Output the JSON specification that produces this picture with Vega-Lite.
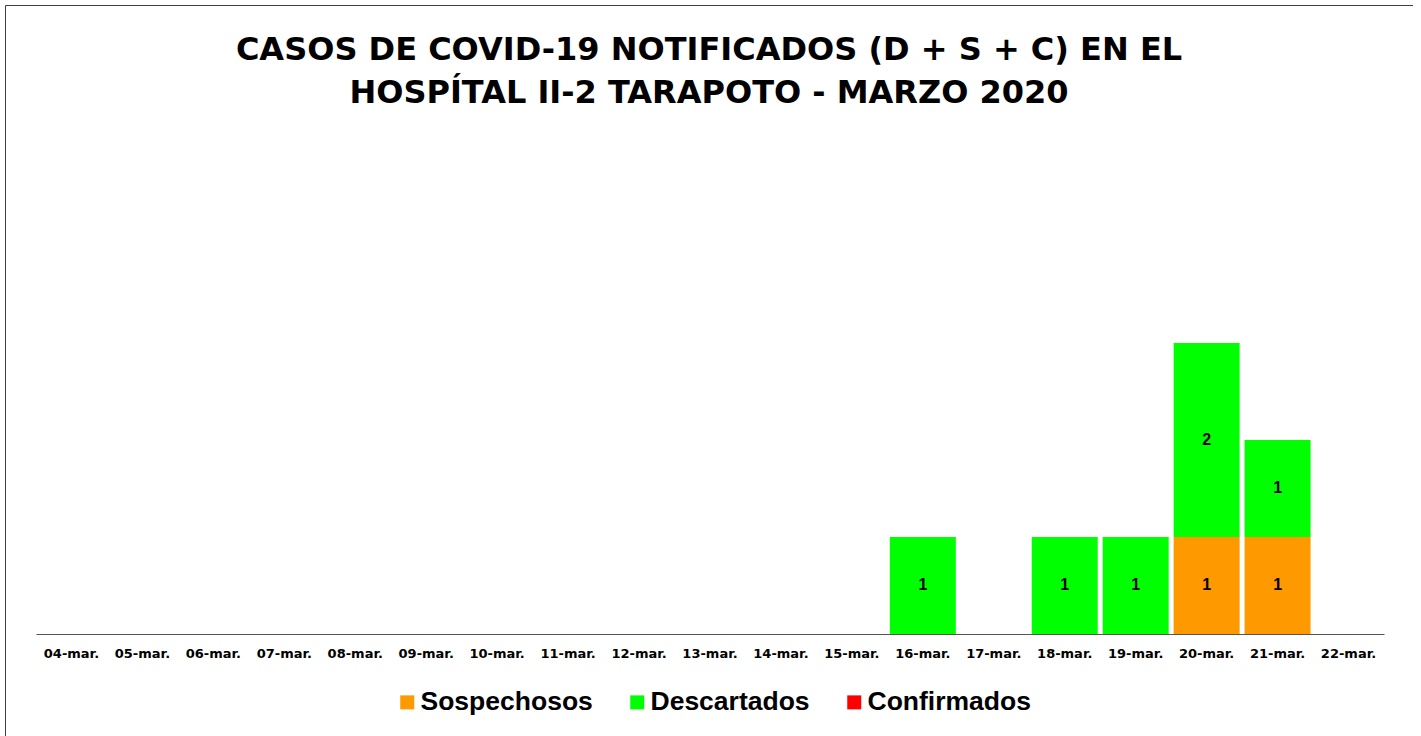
{
  "$schema": "https://vega.github.io/schema/vega-lite/v6.json",
  "width": 1408,
  "height": 735,
  "padding": {"left": 5, "top": 5, "right": 0, "bottom": 0},
  "autosize": {"type": "none"},
  "background": "white",
  "config": {
    "font": "Liberation Sans",
    "view": {"stroke": "#404040", "strokeWidth": 1}
  },
  "title": {
    "text": ["CASOS DE COVID-19 NOTIFICADOS (D + S + C) EN EL", "HOSPÍTAL II-2 TARAPOTO - MARZO 2020"],
    "font": "DejaVu Sans",
    "fontSize": 32,
    "fontWeight": "bold",
    "color": "black",
    "anchor": "middle",
    "frame": "group",
    "baseline": "top",
    "offset": -105,
    "lineHeight": 43
  },
  "data": {
    "values": [
      {"fecha": "16-mar.", "tipo": "Descartados", "casos": 1},
      {"fecha": "18-mar.", "tipo": "Descartados", "casos": 1},
      {"fecha": "19-mar.", "tipo": "Descartados", "casos": 1},
      {"fecha": "20-mar.", "tipo": "Sospechosos", "casos": 1},
      {"fecha": "20-mar.", "tipo": "Descartados", "casos": 2},
      {"fecha": "21-mar.", "tipo": "Sospechosos", "casos": 1},
      {"fecha": "21-mar.", "tipo": "Descartados", "casos": 1}
    ]
  },
  "transform": [
    {"stack": "casos", "groupby": ["fecha"], "sort": [{"field": "tipo", "order": "descending"}], "as": ["y0", "y1"]},
    {"calculate": "(datum.y0 + datum.y1) / 2", "as": "ymid"}
  ],
  "encoding": {
    "x": {
      "field": "fecha",
      "type": "nominal",
      "sort": null,
      "scale": {
        "domain": ["04-mar.", "05-mar.", "06-mar.", "07-mar.", "08-mar.", "09-mar.", "10-mar.", "11-mar.", "12-mar.", "13-mar.", "14-mar.", "15-mar.", "16-mar.", "17-mar.", "18-mar.", "19-mar.", "20-mar.", "21-mar.", "22-mar."],
        "range": [31, 1379],
        "paddingInner": 0.07,
        "paddingOuter": 0.035
      },
      "axis": {
        "title": null,
        "orient": "bottom",
        "offset": -106,
        "domain": true,
        "domainColor": "#555555",
        "domainWidth": 1,
        "ticks": false,
        "labelAngle": 0,
        "labelFont": "DejaVu Sans",
        "labelFontSize": 13,
        "labelFontWeight": "bold",
        "labelColor": "black",
        "labelPadding": 13,
        "grid": false
      }
    }
  },
  "layer": [
    {
      "mark": {"type": "bar"},
      "encoding": {
        "y": {
          "field": "y0",
          "type": "quantitative",
          "scale": {"domain": [-1.0928, 6.4845], "nice": false, "zero": false},
          "axis": null
        },
        "y2": {"field": "y1"},
        "color": {
          "field": "tipo",
          "type": "nominal",
          "scale": {
            "domain": ["Sospechosos", "Descartados", "Confirmados"],
            "range": ["#FF9900", "#00FF00", "#FF0000"]
          },
          "legend": {
            "title": null,
            "orient": "none",
            "direction": "horizontal",
            "legendX": 389,
            "legendY": 684,
            "symbolType": "square",
            "symbolSize": 196,
            "symbolStrokeWidth": 0,
            "symbolOpacity": 1,
            "labelFontSize": 26.5,
            "labelFontWeight": "bold",
            "labelColor": "black",
            "labelOffset": 0,
            "labelLimit": 400,
            "columnPadding": 31,
            "padding": 0
          }
        }
      }
    },
    {
      "mark": {"type": "text", "fontSize": 16, "fontWeight": "bold", "color": "black", "baseline": "middle"},
      "encoding": {
        "y": {"field": "ymid", "type": "quantitative"},
        "text": {"field": "casos", "type": "quantitative"}
      }
    }
  ]
}
